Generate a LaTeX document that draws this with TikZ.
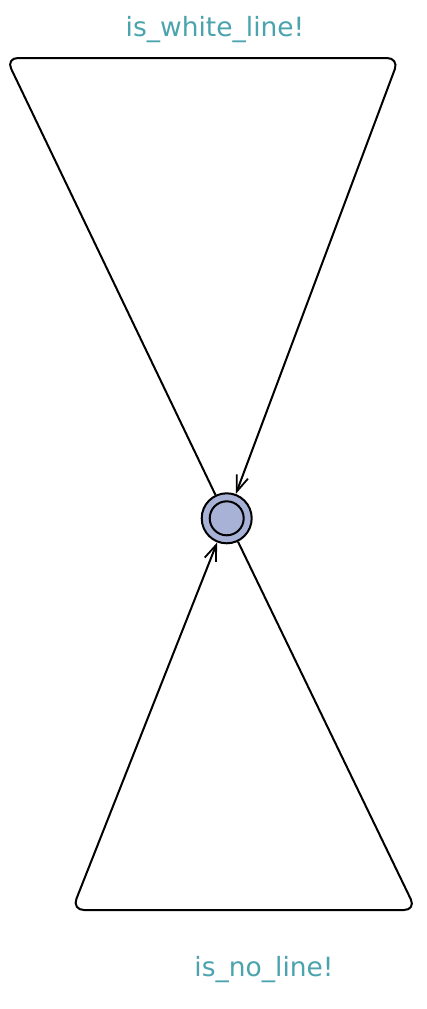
\documentclass[tikz,border=0pt]{standalone}
\usepackage{fontspec}
\setmainfont{DejaVu Sans}
\usetikzlibrary{arrows.meta}
\definecolor{lbl}{RGB}{75,163,174}
\definecolor{stfill}{RGB}{168,178,214}
\begin{document}
\begin{tikzpicture}[x=1pt,y=-1pt,
  edge/.style={line width=2pt, rounded corners=12pt},
  arr/.style={-{Straight Barb[length=16pt,width=12pt,line width=1.8pt]}},
  state/.style={circle, draw, line width=2pt, fill=stfill, minimum size=50pt, inner sep=0pt},
  lab/.style={text=lbl, font=\fontsize{26.5}{29}\selectfont, inner sep=0pt, anchor=base}]
\useasboundingbox (0,0) rectangle (426,1009);
\node[state] (s) at (226.7,518.3) {};
\node[circle, draw, line width=2pt, minimum size=34pt, inner sep=0pt] (si) at (s.center) {};
\coordinate (c1) at (6,58);
\coordinate (c2) at (399,58);
\coordinate (c3) at (416,910);
\coordinate (c4) at (72,910);
\draw[edge, arr] (s) -- (c1) -- (c2) -- (s);
\draw[edge, arr] (s) -- (c3) -- (c4) -- (s);
\node[lab] (t1) at (215,36) {is\_white\_line!};
\node[lab] (t2) at (264,976) {is\_no\_line!};
\end{tikzpicture}
\end{document}
